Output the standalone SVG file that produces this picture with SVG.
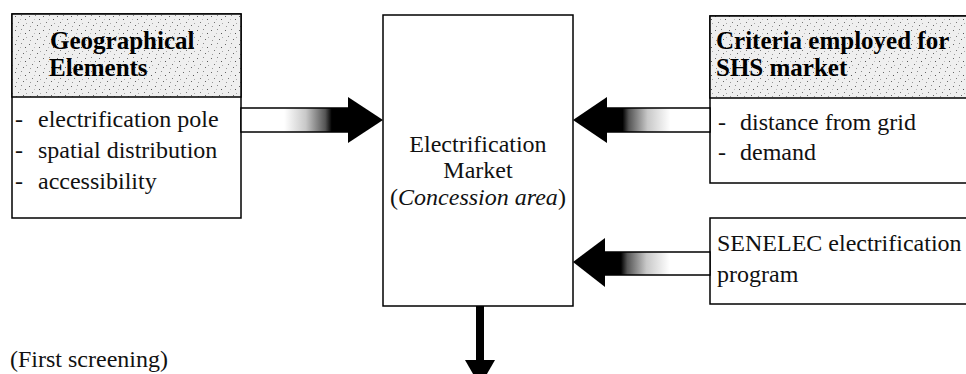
<svg xmlns="http://www.w3.org/2000/svg" width="966" height="374" viewBox="0 0 966 374">
<style>
.box{fill:#fff;stroke:#000;stroke-width:1.5}
.hdr{fill:url(#stipple);stroke:#000;stroke-width:1.5}
.t{font-family:"Liberation Serif","Times New Roman",serif;font-size:24px;fill:#111}
.b{font-family:"Liberation Serif","Times New Roman",serif;font-size:25px;font-weight:bold;fill:#000}
.shaft{stroke:#000;stroke-width:1.5}
.head{fill:#000}
</style>
<defs>
<pattern id="stipple" width="14" height="14" patternUnits="userSpaceOnUse">
<rect width="14" height="14" fill="#efefef"/>
<rect x="1" y="2" width="1" height="1" fill="#666"/>
<rect x="7" y="1" width="1" height="1" fill="#888"/>
<rect x="11" y="5" width="1" height="1" fill="#555"/>
<rect x="4" y="8" width="1" height="1" fill="#777"/>
<rect x="9" y="11" width="1" height="1" fill="#666"/>
<rect x="2" y="12" width="1" height="1" fill="#999"/>
<rect x="12" y="9" width="1" height="1" fill="#aaa"/>
<rect x="6" y="5" width="1" height="1" fill="#bbb"/>
</pattern>
<linearGradient id="gR" x1="0" y1="0" x2="1" y2="0">
<stop offset="0" stop-color="#fff"/>
<stop offset="0.4" stop-color="#fff"/>
<stop offset="0.6" stop-color="#c8c8c8"/>
<stop offset="0.78" stop-color="#555"/>
<stop offset="0.84" stop-color="#000"/>
<stop offset="1" stop-color="#000"/>
</linearGradient>
<linearGradient id="gL" x1="1" y1="0" x2="0" y2="0">
<stop offset="0" stop-color="#fff"/>
<stop offset="0.38" stop-color="#fff"/>
<stop offset="0.6" stop-color="#c8c8c8"/>
<stop offset="0.78" stop-color="#555"/>
<stop offset="0.84" stop-color="#000"/>
<stop offset="1" stop-color="#000"/>
</linearGradient>
</defs>

<g id="geographical-elements">
<rect class="box" x="12" y="14" width="229" height="204"/>
<rect class="hdr" x="12" y="14" width="229" height="83"/>
<text class="b" x="50" y="49">Geographical</text>
<text class="b" x="49" y="76">Elements</text>
<text class="t" x="15" y="127">-</text><text class="t" x="38" y="127">electrification pole</text>
<text class="t" x="15" y="158">-</text><text class="t" x="38" y="158">spatial distribution</text>
<text class="t" x="15" y="189">-</text><text class="t" x="38" y="189">accessibility</text>
</g>

<g id="electrification-market">
<rect class="box" x="383" y="15" width="190" height="291"/>
<text class="t" x="478" y="152" text-anchor="middle">Electrification</text>
<text class="t" x="478" y="178" text-anchor="middle">Market</text>
<text class="t" x="478" y="205" text-anchor="middle">(<tspan font-style="italic">Concession area</tspan>)</text>
</g>

<g id="criteria-shs">
<rect class="box" x="710" y="16" width="270" height="167"/>
<rect class="hdr" x="710" y="16" width="270" height="82"/>
<text class="b" x="716" y="49">Criteria employed for</text>
<text class="b" x="716" y="76">SHS market</text>
<text class="t" x="718" y="130">-</text><text class="t" x="740" y="130">distance from grid</text>
<text class="t" x="718" y="160">-</text><text class="t" x="740" y="160">demand</text>
</g>

<g id="senelec-program">
<rect class="box" x="710" y="218" width="270" height="86"/>
<text class="t" x="717" y="251">SENELEC electrification</text>
<text class="t" x="717" y="282">program</text>
</g>

<g id="first-screening">
<text class="t" x="10" y="367">(First screening)</text>
</g>

<g id="connectors">
<rect class="shaft" x="241" y="108" width="108" height="24" fill="url(#gR)"/>
<polygon class="head" points="348,97 383,120 348,143"/>
<rect class="shaft" x="606" y="108" width="104" height="24" fill="url(#gL)"/>
<polygon class="head" points="607,97 573,120 607,143"/>
<rect class="shaft" x="604" y="252" width="106" height="23" fill="url(#gL)"/>
<polygon class="head" points="605,238 573,262 605,287"/>
<rect x="476" y="306" width="8" height="55" fill="#000"/>
<polygon class="head" points="465,360 495,360 480,386"/>
</g>
</svg>
